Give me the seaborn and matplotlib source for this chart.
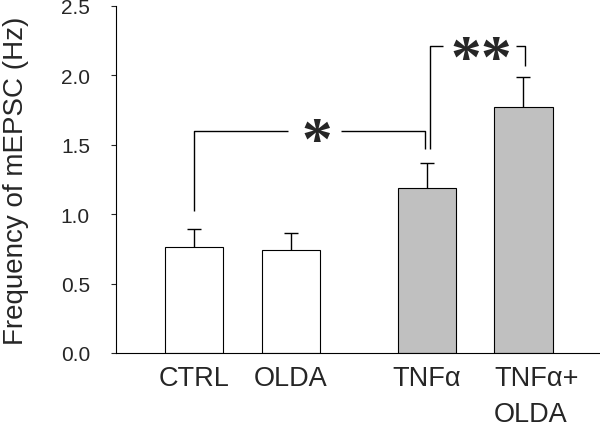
import numpy as np
import pandas as pd
import matplotlib
matplotlib.use("Agg")
import matplotlib.pyplot as plt
import matplotlib.transforms as mtransforms
import seaborn as sns


# data (mean + SEM, Hz)
groups = ["CTRL", "OLDA", "TNFα", "TNFα+\nOLDA"]
means = [0.76, 0.74, 1.19, 1.77]
sems = [0.13, 0.125, 0.175, 0.22]
bar_colors = ["white", "white", "#c0c0c0", "#c0c0c0"]

# layout: gap between the control pair and the TNFa pair
x_pos = [0, 1, 2.4, 3.4]


def main() -> None:
    sns.set_style("ticks")
    plt.rcParams["font.family"] = ["Liberation Sans", "DejaVu Sans"]

    df = pd.DataFrame({"group": groups, "x": x_pos, "freq": means})

    fig = plt.figure(figsize=(6, 4.27), dpi=100)
    ax = fig.add_axes([0.193, 0.171, 0.807, 0.813])

    sns.barplot(
        data=df, x="x", y="freq", hue="group",
        palette=dict(zip(groups, bar_colors)), saturation=1,
        native_scale=True, width=0.6, errorbar=None, legend=False,
        edgecolor="black", linewidth=0.8, ax=ax,
    )
    _, caps, _ = ax.errorbar(
        x_pos, means, yerr=[np.zeros(len(means)), sems], fmt="none",
        ecolor="black", elinewidth=1, capsize=5, capthick=1, zorder=1,
    )
    caps[0].set_visible(False)  # only the upper half of the SEM is drawn

    # significance brackets
    star = dict(fontsize=44, family="Liberation Serif", fontweight="bold",
                ha="center", va="center")
    br = dict(color="black", lw=1, solid_capstyle="butt")
    ax.plot([0, 0, 0.966], [1.025, 1.60, 1.60], **br)
    ax.plot([1.513, 2.384, 2.384], [1.60, 1.60, 1.47], **br)
    ax.text(1.262, 1.51, "*", **star)

    ax.plot([2.435, 2.435, 2.564], [1.47, 2.21, 2.21], **br)
    ax.plot([3.32, 3.42, 3.42], [2.21, 2.21, 2.07], **br)
    for xs in (2.80, 3.11):
        ax.text(xs, 2.10, "*", **star)

    ax.set_xlim(-0.81, 4.19)
    ax.set_ylim(0, 2.5)
    ax.set_yticks(np.arange(0, 2.51, 0.5))
    ax.set_xticks(x_pos)
    ax.set_xticklabels(groups)

    ax.tick_params(axis="x", length=0, pad=9, labelsize=19.5)
    ax.tick_params(axis="y", length=3.6, width=0.8, pad=15, labelsize=15)
    last = ax.get_xticklabels()[-1]
    last.set_multialignment("left")
    last.set_linespacing(1.5)
    last.set_transform(last.get_transform() + mtransforms.ScaledTranslation(0.13, 0, fig.dpi_scale_trans))

    ax.set_xlabel("")
    ax.set_ylabel("Frequency of mEPSC (Hz)", fontsize=20, labelpad=23)

    sns.despine(ax=ax)
    for side in ("left", "bottom"):
        ax.spines[side].set_linewidth(0.8)
        ax.spines[side].set_color("black")

    fig.savefig("out.png", dpi=100)
    plt.close(fig)


if __name__ == "__main__":
    main()
